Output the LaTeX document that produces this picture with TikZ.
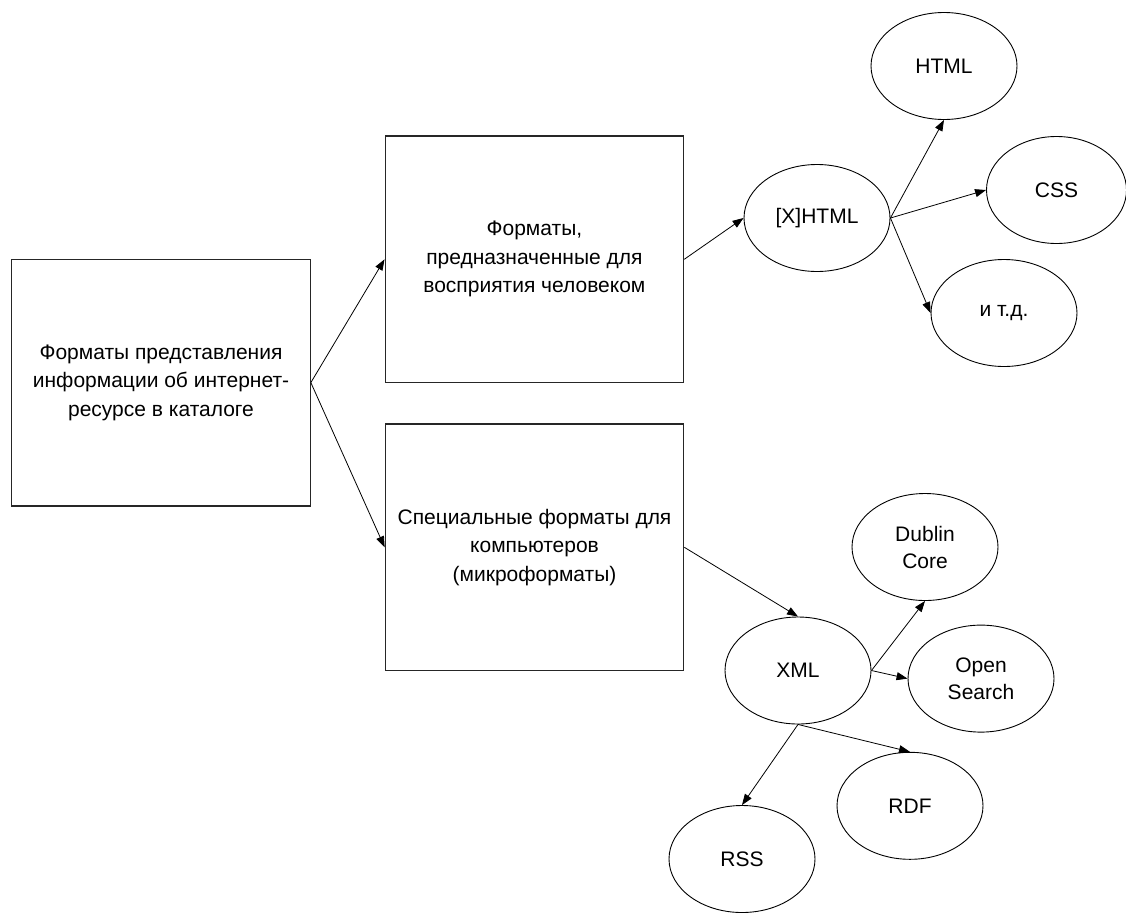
\documentclass[tikz,border=0pt]{standalone}
\usepackage{fontspec}
\setmainfont{Liberation Sans}
\usetikzlibrary{shapes.geometric,arrows.meta}
\begin{document}
\begin{tikzpicture}[x=1pt,y=-1pt,
  every node/.style={font=\fontsize{21}{28.5}\selectfont, align=center},
  fmtbox/.style={draw=black!85, line width=1.2pt, rectangle,
    minimum width=298.5pt, minimum height=246.7pt, inner sep=0pt},
  fmtoval/.style={draw, line width=0.9pt, ellipse,
    minimum width=146pt, minimum height=107pt, inner sep=0pt},
  link/.style={line width=0.8pt, -{Triangle[length=11pt,width=8pt]}}]
\useasboundingbox (0,0) rectangle (1126,913);

% category boxes
\node[fmtbox] (root) at (161,382.6)
  {Форматы представления\\информации об интернет-\\ресурсе в каталоге};
\node[fmtbox] (human) at (534.4,259.3)
  {Форматы,\\предназначенные для\\восприятия человеком};
\node[fmtbox] (machine) at (534.5,547.3)
  {Специальные форматы для\\компьютеров\\(микроформаты)};

% human-readable formats
\node[fmtoval] (xhtml) at (817,218) {[X]HTML};
\node[fmtoval] (html) at (944,66) {HTML};
\node[fmtoval, minimum width=140pt] (css) at (1056.5,190) {CSS};
\node[fmtoval] (etc) at (1004,313) {и т.д.};

% machine-readable formats
\node[fmtoval] (xml) at (798,670.5) {XML};
\node[fmtoval, font=\fontsize{21}{27}\selectfont] (dc) at (925,547) {Dublin\\Core};
\node[fmtoval, font=\fontsize{21}{27}\selectfont] (os) at (981,678.6) {Open\\Search};
\node[fmtoval] (rdf) at (910,805.8) {RDF};
\node[fmtoval] (rss) at (742,859) {RSS};

% connectors
\draw[link] (root.east) -- (human.west);
\draw[link] (root.east) -- (machine.west);
\draw[link] (human.east) -- (xhtml.west);
\draw[link] (machine.east) -- (xml.north);
\draw[link] (xhtml.east) -- (html.south);
\draw[link] (xhtml.east) -- (css.west);
\draw[link] (xhtml.east) -- (etc.west);
\draw[link] (xml.east) -- (dc.south);
\draw[link] (xml.east) -- (os.west);
\draw[link] (xml.south) -- (rdf.north);
\draw[link] (xml.south) -- (rss.north);
\end{tikzpicture}
\end{document}
